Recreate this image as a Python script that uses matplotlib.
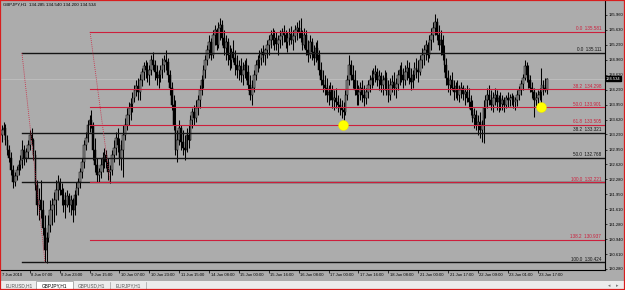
import matplotlib
matplotlib.use("Agg")
import matplotlib.pyplot as plt
import matplotlib.transforms as mtransforms
from matplotlib.patches import Rectangle
from matplotlib.lines import Line2D

# ---- chart data (GBPJPY H1, 7 Jun 15:00 .. 23 Jun 22:00) ----
symbol = "GBPJPY,H1"
first_open = 133.32

highs = [
    133.43, 133.50, 133.57, 133.52, 133.28, 133.05, 132.90, 132.60, 132.45, 132.58,
    132.72, 132.83, 133.16, 133.05, 132.99, 133.16, 133.39, 133.43, 133.21, 132.94,
    132.27, 132.09, 132.27, 131.82, 131.49, 131.11, 131.49, 131.82, 131.87, 132.00,
    132.27, 132.38, 132.31, 132.20, 132.09, 132.00, 132.05, 131.98, 131.93, 131.87,
    132.05, 132.22, 132.31, 132.54, 132.76, 133.16, 133.34, 133.61, 133.72, 133.83,
    133.57, 133.21, 132.76, 132.54, 132.76, 132.90, 132.99, 132.94, 132.76, 132.60,
    132.94, 133.16, 133.34, 133.43, 133.21, 133.16, 133.50, 133.66, 133.88, 134.01,
    134.10, 134.24, 134.39, 134.51, 134.55, 134.64, 134.77, 134.91, 134.95, 134.91,
    134.84, 135.07, 135.13, 134.95, 134.84, 134.73, 134.84, 135.00, 135.07, 135.18,
    135.00, 134.73, 134.46, 134.17, 134.06, 133.39, 133.61, 133.50, 133.39, 133.28,
    133.43, 133.50, 133.72, 133.88, 133.95, 134.06, 134.17, 134.39, 134.62, 134.84,
    135.07, 135.29, 135.51, 135.45, 135.62, 135.74, 135.67, 135.80, 135.89, 135.85,
    135.62, 135.51, 135.45, 135.29, 135.22, 135.40, 135.18, 135.07, 134.95, 135.00,
    134.91, 134.95, 135.00, 134.84, 134.62, 134.51, 134.73, 134.95, 135.07, 135.18,
    135.22, 135.29, 135.22, 135.40, 135.51, 135.62, 135.67, 135.62, 135.58, 135.51,
    135.62, 135.67, 135.74, 135.62, 135.58, 135.67, 135.71, 135.62, 135.74, 135.80,
    135.85, 135.89, 135.62, 135.67, 135.62, 135.40, 135.51, 135.45, 135.29, 135.36,
    135.40, 135.18, 134.91, 134.73, 134.62, 134.55, 134.39, 134.46, 134.39, 134.28,
    134.33, 134.17, 134.10, 134.06, 134.01, 134.28, 134.62, 135.07, 134.95, 134.84,
    134.73, 134.51, 134.39, 134.46, 134.51, 134.39, 134.33, 134.51, 134.62, 134.73,
    134.77, 134.84, 134.77, 134.73, 134.69, 134.62, 134.73, 134.69, 134.51, 134.55,
    134.62, 134.69, 134.55, 134.73, 134.84, 134.91, 134.77, 134.84, 134.95, 134.91,
    134.77, 134.73, 134.91, 135.00, 134.95, 135.07, 135.22, 135.29, 135.40, 135.36,
    135.51, 135.67, 135.80, 135.98, 135.89, 135.74, 135.62, 135.51, 135.29, 135.00,
    134.73, 134.62, 134.69, 134.51, 134.46, 134.51, 134.39, 134.46, 134.39, 134.33,
    134.39, 134.33, 134.17, 134.06, 133.88, 133.83, 133.72, 133.79, 133.61, 134.06,
    134.17, 134.33, 134.39, 134.28, 134.24, 134.33, 134.28, 134.17, 134.24, 134.17,
    134.13, 134.17, 134.24, 134.19, 134.22, 134.17, 134.13, 134.28, 134.37, 134.51,
    134.64, 134.95, 134.91, 134.84, 134.62, 134.46, 134.33, 134.24, 134.28, 134.33,
    134.77, 134.51, 134.55, 134.540,
]

lows = [
    132.94, 133.12, 133.28, 133.05, 132.83, 132.67, 132.38, 132.09, 132.13, 132.27,
    132.38, 132.49, 132.54, 132.60, 132.67, 132.76, 132.94, 133.05, 132.72, 132.05,
    131.49, 131.37, 131.42, 131.04, 130.43, 130.41, 130.88, 131.11, 131.26, 131.33,
    131.49, 131.82, 131.93, 131.71, 131.55, 131.42, 131.67, 131.55, 131.49, 131.33,
    131.49, 131.71, 131.93, 132.09, 132.31, 132.54, 132.94, 133.12, 133.34, 133.43,
    132.72, 132.45, 132.22, 132.22, 132.31, 132.45, 132.54, 132.54, 132.27, 132.20,
    132.38, 132.67, 132.83, 132.90, 132.60, 132.49, 132.34, 133.16, 133.39, 133.50,
    133.61, 133.79, 134.01, 134.15, 134.06, 134.06, 134.37, 134.51, 134.55, 134.46,
    134.39, 134.62, 134.73, 134.51, 134.39, 134.33, 134.46, 134.55, 134.69, 134.73,
    134.46, 134.17, 133.83, 133.39, 132.83, 132.67, 133.05, 132.94, 132.83, 132.72,
    132.90, 132.99, 133.16, 133.43, 133.50, 133.57, 133.72, 133.88, 134.17, 134.33,
    134.55, 134.84, 135.00, 134.95, 135.00, 135.29, 135.18, 135.22, 135.40, 135.29,
    135.07, 134.95, 134.84, 134.73, 134.77, 134.91, 134.62, 134.55, 134.51, 134.46,
    134.39, 134.55, 134.51, 134.28, 134.06, 133.95, 134.24, 134.51, 134.69, 134.77,
    134.84, 134.91, 134.84, 135.00, 135.07, 135.22, 135.29, 135.18, 135.18, 135.07,
    135.22, 135.29, 135.36, 135.22, 135.13, 135.29, 135.31, 135.18, 135.36, 135.40,
    135.45, 135.36, 135.18, 135.22, 135.07, 134.91, 135.00, 134.95, 134.84, 134.91,
    134.95, 134.62, 134.39, 134.24, 134.17, 134.01, 133.95, 134.06, 133.88, 133.83,
    133.88, 133.79, 133.72, 133.66, 133.61, 133.72, 134.06, 134.39, 134.51, 134.33,
    134.17, 133.95, 133.95, 134.06, 134.01, 133.92, 133.97, 134.10, 134.24, 134.33,
    134.39, 134.46, 134.37, 134.28, 134.24, 134.17, 134.28, 134.17, 134.01, 134.06,
    134.24, 134.17, 134.10, 134.28, 134.39, 134.46, 134.33, 134.39, 134.51, 134.42,
    134.28, 134.33, 134.51, 134.55, 134.46, 134.62, 134.77, 134.84, 134.95, 134.91,
    135.00, 135.18, 135.36, 135.51, 135.40, 135.18, 135.07, 134.95, 134.69, 134.39,
    134.24, 134.17, 134.28, 134.06, 134.10, 134.06, 134.01, 134.10, 134.06, 133.95,
    134.01, 133.88, 133.72, 133.57, 133.43, 133.39, 133.28, 133.21, 133.12, 133.10,
    133.66, 133.88, 133.95, 133.83, 133.79, 133.95, 133.83, 133.79, 133.83, 133.83,
    133.79, 133.88, 133.90, 133.92, 133.95, 133.88, 133.83, 133.92, 134.06, 134.17,
    134.28, 134.51, 134.46, 134.33, 134.24, 134.10, 133.68, 133.92, 133.97, 134.06,
    133.95, 134.17, 134.24, 134.200,
]

closes = [
    133.28, 133.39, 133.43, 133.16, 132.94, 132.76, 132.49, 132.22, 132.36, 132.49,
    132.60, 132.72, 132.94, 132.76, 132.90, 133.05, 133.28, 133.16, 132.83, 132.16,
    131.71, 131.82, 131.60, 131.20, 130.70, 130.97, 131.26, 131.60, 131.71, 131.82,
    132.05, 132.22, 132.05, 131.93, 131.82, 131.71, 131.91, 131.71, 131.82, 131.60,
    131.93, 132.09, 132.22, 132.45, 132.67, 133.05, 133.21, 133.50, 133.61, 133.50,
    132.94, 132.60, 132.38, 132.45, 132.60, 132.76, 132.83, 132.67, 132.45, 132.49,
    132.83, 132.99, 133.21, 133.05, 132.76, 132.94, 133.28, 133.50, 133.72, 133.88,
    133.97, 134.10, 134.28, 134.37, 134.24, 134.51, 134.69, 134.82, 134.73, 134.62,
    134.73, 134.95, 134.84, 134.69, 134.55, 134.62, 134.73, 134.84, 134.95, 134.91,
    134.62, 134.33, 133.95, 133.50, 132.94, 133.16, 133.43, 133.12, 132.99, 132.94,
    133.28, 133.16, 133.61, 133.79, 133.66, 133.88, 134.06, 134.28, 134.51, 134.73,
    134.95, 135.18, 135.36, 135.07, 135.51, 135.62, 135.29, 135.67, 135.74, 135.45,
    135.22, 135.36, 135.07, 134.95, 135.13, 135.00, 134.84, 134.73, 134.82, 134.62,
    134.73, 134.84, 134.69, 134.39, 134.17, 134.33, 134.62, 134.84, 134.95, 135.00,
    135.13, 135.07, 135.18, 135.29, 135.40, 135.51, 135.40, 135.45, 135.31, 135.40,
    135.49, 135.58, 135.51, 135.36, 135.45, 135.53, 135.40, 135.49, 135.62, 135.67,
    135.58, 135.45, 135.29, 135.51, 135.18, 135.07, 135.36, 135.13, 135.00, 135.22,
    135.07, 134.73, 134.51, 134.39, 134.33, 134.17, 134.24, 134.28, 134.06, 134.10,
    134.01, 133.95, 133.88, 133.83, 133.79, 134.17, 134.51, 134.84, 134.62, 134.51,
    134.28, 134.17, 134.24, 134.33, 134.17, 134.10, 134.24, 134.39, 134.51, 134.55,
    134.64, 134.69, 134.51, 134.60, 134.39, 134.51, 134.55, 134.28, 134.17, 134.39,
    134.46, 134.33, 134.42, 134.62, 134.73, 134.62, 134.51, 134.69, 134.77, 134.55,
    134.46, 134.62, 134.77, 134.73, 134.69, 134.95, 135.07, 135.18, 135.29, 135.07,
    135.40, 135.51, 135.67, 135.80, 135.51, 135.29, 135.40, 135.07, 134.84, 134.55,
    134.39, 134.51, 134.33, 134.24, 134.37, 134.17, 134.28, 134.33, 134.19, 134.24,
    134.10, 134.01, 133.83, 133.66, 133.72, 133.50, 133.57, 133.39, 133.50, 133.88,
    134.06, 134.17, 134.06, 133.95, 134.10, 134.17, 134.01, 134.10, 133.97, 134.06,
    133.95, 134.10, 134.06, 134.10, 134.13, 134.01, 134.06, 134.17, 134.28, 134.42,
    134.55, 134.82, 134.62, 134.51, 134.33, 134.24, 134.06, 134.10, 134.17, 134.24,
    134.39, 134.33, 134.285, 134.534,
]

last_ohlc = ["134.285", "134.540", "134.200", "134.534"]

time_labels = ["8 Jun 07:00", "8 Jun 23:00", "9 Jun 15:00", "10 Jun 07:00",
               "10 Jun 23:00", "11 Jun 15:00", "14 Jun 08:00", "15 Jun 00:00",
               "15 Jun 16:00", "16 Jun 08:00", "17 Jun 00:00", "17 Jun 16:00",
               "18 Jun 08:00", "21 Jun 00:00", "21 Jun 17:00", "22 Jun 09:00",
               "23 Jun 01:00", "23 Jun 17:00"]
time_label_bars = [16, 32, 48, 64, 80, 96, 112, 128, 144, 160, 176, 192,
                   208, 224, 240, 256, 272, 288]

price_ticks = [135.960, 135.630, 135.290, 134.960, 134.620, 134.290, 133.950,
               133.620, 133.290, 132.950, 132.620, 132.280, 131.950, 131.610,
               131.280, 130.940, 130.610, 130.280]

# fibonacci retracements: level names and prices
red_fib_levels = ["0.0", "38.2", "50.0", "61.8", "100.0", "138.2"]
red_fib_prices = [135.581, 134.298, 133.901, 133.505, 132.221, 130.937]
red_fib_start = 48.3           # bar where the red fib was anchored
red_fib_end = 59.0
black_fib_levels = ["0.0", "38.2", "50.0", "61.8", "100.0"]
black_fib_prices = [135.111, 133.321, 132.768, 132.214, 130.424]
black_fib_start = 11.8
black_fib_end = 24.2

mark_bars = [183.7, 289.7]
mark_prices = [133.505, 133.901]

tabs = ["EURUSD,H1", "GBPJPY,H1", "GBPUSD,H1", "EURJPY,H1"]
active_tab = 1

# ---- look ----
BG = "#acacac"
RED = "#cc1f3c"
plt.rcParams["font.family"] = ["Liberation Sans", "DejaVu Sans"]
FS = 3.0

W, H = 625, 290
fig = plt.figure(figsize=(W / 100, H / 100), dpi=100)
fig.patch.set_facecolor(BG)

# plot area: x 1..605 px, y 1..270 px from the top
ax = fig.add_axes([1 / W, (H - 270) / H, 604 / W, 269 / H])
ax.set_facecolor(BG)
ax.set_xlim(0.6, 324.0)
ax.set_ylim(130.255, 136.273)

n = len(closes)
opens = [first_open] + closes[:-1]
xs = list(range(n))

# candles
ax.vlines(xs, lows, highs, color="black", lw=0.75, zorder=2)
up = [i for i in xs if closes[i] >= opens[i]]
dn = [i for i in xs if closes[i] < opens[i]]
ax.bar(up, [closes[i] - opens[i] for i in up], bottom=[opens[i] for i in up],
       width=0.9, color="#8c8c8c", edgecolor="black", lw=0.35, zorder=3)
ax.bar(dn, [opens[i] - closes[i] for i in dn], bottom=[closes[i] for i in dn],
       width=0.9, color="black", edgecolor="black", lw=0.35, zorder=3)

# bid line
ax.axhline(closes[-1], color="#c4c4c4", lw=0.5, zorder=1)

xmax = ax.get_xlim()[1]
lbl_off = mtransforms.offset_copy(ax.transData, fig=fig, x=-4, y=0.5, units="dots")

# black fib
for lev, p in zip(black_fib_levels, black_fib_prices):
    ax.plot([black_fib_start, xmax], [p, p], color="#141414", lw=1.0, zorder=4)
    if lev != "61.8":
        ax.text(xmax, p, f"{lev}  {p:.3f}", transform=lbl_off, ha="right",
                va="bottom", fontsize=FS + 0.3, color="#141414", zorder=6)
ax.plot([black_fib_start, black_fib_end], [black_fib_prices[0], black_fib_prices[-1]],
        color=RED, lw=0.6, ls=(0, (1, 1.5)), zorder=4)

# red fib
for lev, p in zip(red_fib_levels, red_fib_prices):
    ax.plot([red_fib_start, xmax], [p, p], color=RED, lw=0.8, zorder=5)
    ax.text(xmax, p, f"{lev}  {p:.3f}", transform=lbl_off, ha="right",
            va="bottom", fontsize=FS + 0.3, color=RED, zorder=6)
red_100 = red_fib_prices[red_fib_levels.index("100.0")]
ax.plot([red_fib_start, red_fib_end], [red_fib_prices[0], red_100],
        color=RED, lw=0.6, ls=(0, (1, 1.5)), zorder=5)

# yellow markers
ax.plot(mark_bars, mark_prices, "o", ms=7.2, color="#ffff00", mec="#e8e000",
        mew=0.3, zorder=7)

# axes styling
for s in ["top", "left"]:
    ax.spines[s].set_visible(False)
for s in ["right", "bottom"]:
    ax.spines[s].set_color("black")
    ax.spines[s].set_linewidth(0.8)

ax.yaxis.tick_right()
ax.set_yticks(price_ticks)
ax.set_yticklabels([f"{p:.3f}" for p in price_ticks])
ax.tick_params(axis="y", length=1.5, width=0.5, pad=1.0, labelsize=FS, colors="black")

ax.set_xticks(time_label_bars)
ax.tick_params(axis="x", direction="out", length=2.5, width=0.5, labelbottom=False)
date_off = mtransforms.offset_copy(ax.get_xaxis_transform(), fig=fig, x=1.5, y=-2.5,
                                   units="dots")
ax.text(0.6, 0, "7 Jun 2010", transform=date_off, ha="left", va="top", fontsize=FS)
for b, t in zip(time_label_bars, time_labels):
    ax.text(b, 0, t, transform=date_off, ha="left", va="top", fontsize=FS)

# current price box
bid_tr = mtransforms.blended_transform_factory(ax.transAxes, ax.transData)
ax.text(1.002, closes[-1], last_ohlc[3], transform=bid_tr, ha="left", va="center",
        fontsize=FS, color="white",
        bbox=dict(boxstyle="square,pad=0.15", fc="black", ec="black"))

# header
fig.text(3 / W, 1 - 5 / H, f"{symbol}  " + " ".join(last_ohlc), ha="left",
         va="center", fontsize=FS + 0.2, color="black")

# tab strip
fig.patches.append(Rectangle((0, 0), 1, 9 / H, transform=fig.transFigure,
                             fc="#ececec", ec="none", zorder=1))
tab_edges = [2, 36, 73, 110, 146]
for k, name in enumerate(tabs):
    x0, x1 = tab_edges[k], tab_edges[k + 1]
    if k == active_tab:
        fig.patches.append(Rectangle((x0 / W, 0), (x1 - x0) / W, 9 / H,
                                     transform=fig.transFigure, fc="white",
                                     ec="#9a9a9a", lw=0.5, zorder=2))
    fig.text((x0 + x1) / 2 / W, 4.5 / H, name, ha="center", va="center",
             fontsize=FS + 0.4, color="black" if k == active_tab else "#555555", zorder=3)
for x in tab_edges[1:]:
    fig.lines.append(Line2D([x / W, x / W], [1 / H, 8 / H], transform=fig.transFigure,
                            color="#a0a0a0", lw=0.5))
fig.text(609 / W, 4.5 / H, "\u25c2", ha="center", va="center", fontsize=3.5,
         color="#777777", family="DejaVu Sans")
fig.text(617 / W, 4.5 / H, "\u25b8", ha="center", va="center", fontsize=3.5,
         color="#777777", family="DejaVu Sans")

# window frame
fig.patches.append(Rectangle((0, 0), 1, 1, transform=fig.transFigure, fill=False,
                             ec="#d81e1e", lw=1.6, zorder=10))

fig.savefig("out.png", dpi=100, facecolor=fig.get_facecolor())
